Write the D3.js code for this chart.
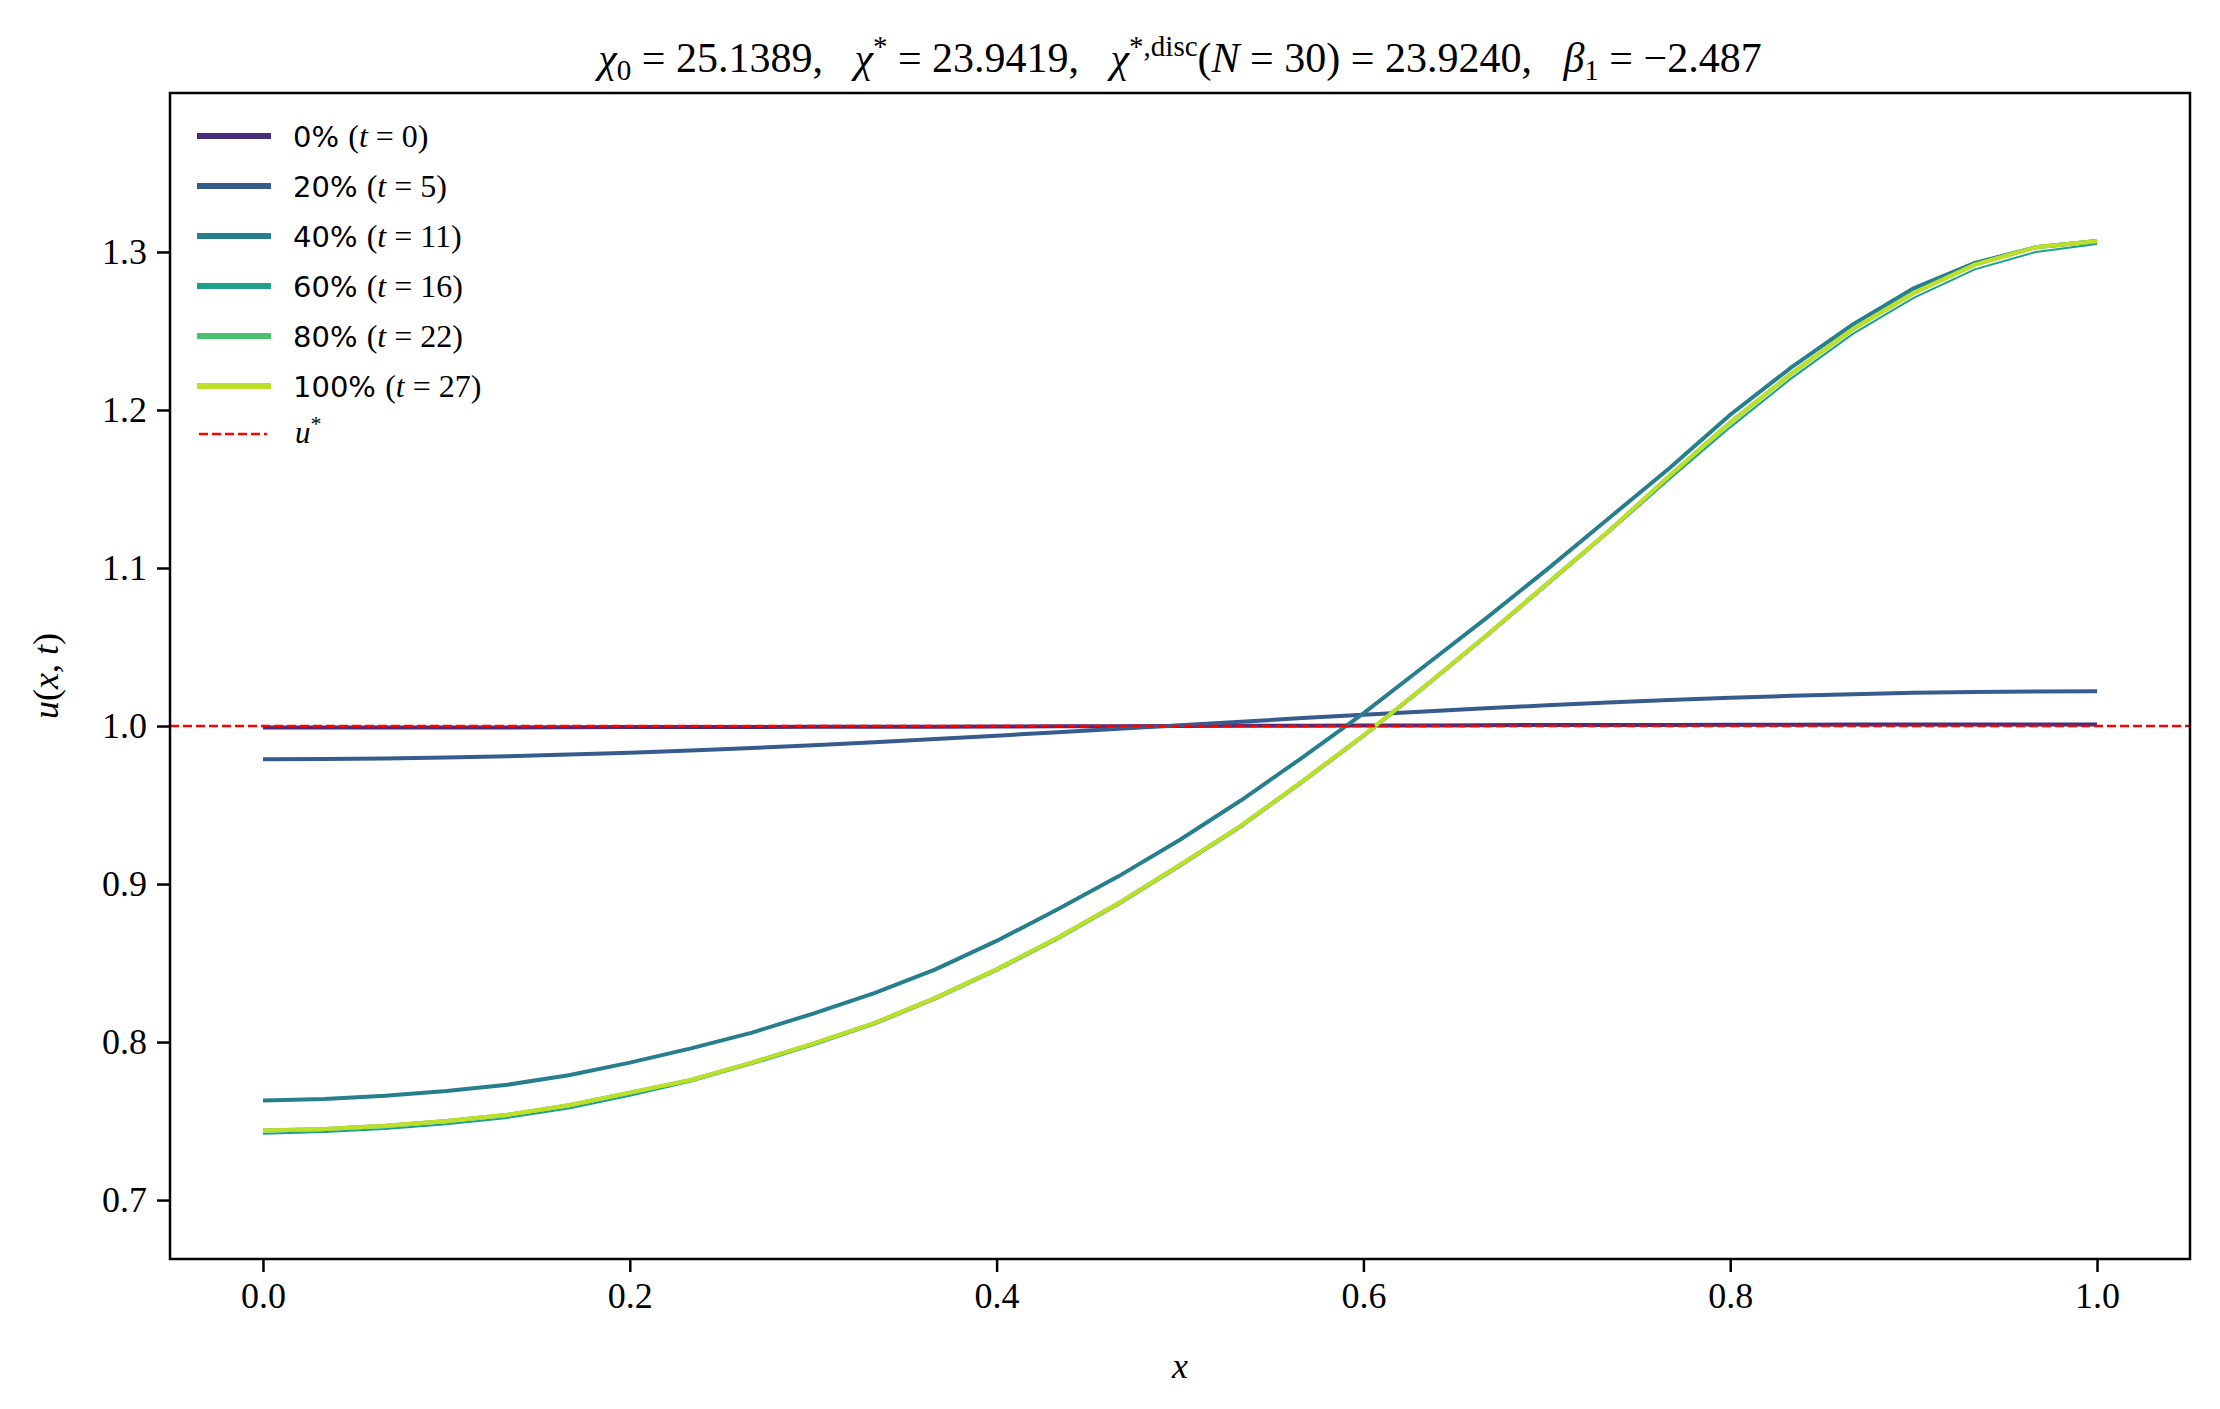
<!DOCTYPE html>
<html><head><meta charset="utf-8">
<script src="https://cdn.jsdelivr.net/npm/d3@7"></script>
<style>body{margin:0;background:#fff} text,tspan{white-space:pre}</style></head>
<body><svg id="c" width="2220" height="1409"></svg>
<script>
const xs = d3.range(31).map(k => k / 30);
const u0 = [0.9990,0.9990,0.9990,0.9991,0.9991,0.9992,0.9993,0.9993,0.9994,0.9995,0.9996,0.9996,0.9997,0.9998,0.9999,1.0000,1.0001,1.0002,1.0003,1.0004,1.0005,1.0006,1.0007,1.0007,1.0008,1.0008,1.0009,1.0009,1.0010,1.0010,1.0010];
const u5 = [0.9790,0.9791,0.9795,0.9800,0.9809,0.9819,0.9831,0.9845,0.9861,0.9879,0.9898,0.9918,0.9939,0.9960,0.9983,1.0005,1.0027,1.0050,1.0071,1.0092,1.0112,1.0131,1.0149,1.0165,1.0179,1.0191,1.0201,1.0210,1.0215,1.0219,1.0220];
const u11 = [0.763,0.764,0.766,0.769,0.773,0.779,0.787,0.796,0.806,0.818,0.831,0.846,0.864,0.884,0.905,0.928,0.953,0.980,1.008,1.038,1.068,1.099,1.131,1.163,1.197,1.227,1.254,1.277,1.293,1.303,1.307];
const u16 = [0.742,0.743,0.745,0.748,0.752,0.758,0.766,0.775,0.786,0.798,0.811,0.827,0.845,0.865,0.887,0.911,0.936,0.964,0.993,1.024,1.056,1.089,1.122,1.156,1.189,1.220,1.248,1.271,1.289,1.300,1.305];
const u22 = [0.744,0.745,0.747,0.750,0.754,0.760,0.768,0.776,0.787,0.799,0.812,0.828,0.846,0.866,0.888,0.912,0.937,0.965,0.994,1.025,1.057,1.090,1.123,1.158,1.192,1.223,1.251,1.274,1.292,1.303,1.307];
const u27 = [0.744,0.745,0.747,0.750,0.754,0.760,0.768,0.776,0.787,0.799,0.812,0.828,0.846,0.866,0.888,0.912,0.937,0.965,0.994,1.025,1.057,1.090,1.123,1.158,1.192,1.223,1.251,1.274,1.292,1.303,1.307];
const seriesPct = ["0%","20%","40%","60%","80%","100%"];
const seriesT = [0,5,11,16,22,27];
const seriesVals = [u0,u5,u11,u16,u22,u27];
const colors = ["#472d7b","#365c8d","#277f8e","#1fa187","#4ac16d","#bddf26"];
const widths = [4,4,4,2,4,4];
const xTicks = [0,0.2,0.4,0.6,0.8,1.0];
const yTicks = [0.7,0.8,0.9,1.0,1.1,1.2,1.3];
const uStar = 1.0;

const svg = d3.select("#c");
const L=170,R=2190,T=93,B=1259;
const x = d3.scaleLinear().domain([-0.0507,1.0507]).range([L,R]);
const y = d3.scaleLinear().domain([0.6627,1.4006]).range([B,T]);
const serif = "'Liberation Serif','DejaVu Serif',serif";

const line = d3.line().x((d,i)=>x(xs[i])).y(d=>y(d));
seriesVals.forEach((v,i)=>{
  svg.append("path").attr("d",line(v)).attr("fill","none")
    .attr("stroke",colors[i]).attr("stroke-width",widths[i]);
});
svg.append("line").attr("x1",L).attr("x2",R).attr("y1",y(uStar)).attr("y2",y(uStar))
  .attr("stroke","#ff0000").attr("stroke-width",2.5).attr("stroke-dasharray","9,4");

const xa = svg.append("g").attr("transform",`translate(0,${B})`)
  .call(d3.axisBottom(x).tickValues(xTicks).tickFormat(d3.format(".1f")).tickSize(13).tickPadding(10));
const ya = svg.append("g").attr("transform",`translate(${L},0)`)
  .call(d3.axisLeft(y).tickValues(yTicks).tickFormat(d3.format(".1f")).tickSize(13).tickPadding(10));
[xa,ya].forEach(a=>{
  a.select(".domain").remove();
  a.selectAll("line").attr("stroke","#000").attr("stroke-width",2.5);
  a.selectAll("text").attr("font-family",serif).attr("font-size",36).attr("fill","#000");
});
svg.append("rect").attr("x",L).attr("y",T).attr("width",R-L).attr("height",B-T)
  .attr("fill","none").attr("stroke","#000").attr("stroke-width",2.5);

// legend
const lg = svg.append("g");
seriesPct.forEach((p,i)=>{
  const yy = 136 + i*50;
  lg.append("line").attr("x1",197).attr("x2",271).attr("y1",yy).attr("y2",yy)
    .attr("stroke",colors[i]).attr("stroke-width",6);
  const t = lg.append("text").attr("x",293).attr("y",yy+11).attr("font-size",29).attr("font-family","'DejaVu Sans',sans-serif");
  t.append("tspan").text(p+" ");
  t.append("tspan").attr("font-family",serif).attr("font-size",32).text("(");
  t.append("tspan").attr("font-family",serif).attr("font-size",32).attr("font-style","italic").text("t");
  t.append("tspan").attr("font-family",serif).attr("font-size",32).text(" = "+seriesT[i]+")");
});
lg.append("line").attr("x1",199).attr("x2",267).attr("y1",434).attr("y2",434)
  .attr("stroke","#ff0000").attr("stroke-width",2.5).attr("stroke-dasharray","9,4");
const us = lg.append("text").attr("x",295).attr("y",443).attr("font-family",serif).attr("font-size",31).attr("font-style","italic");
us.append("tspan").text("u");
us.append("tspan").attr("dy",-12).attr("font-size",22).attr("font-style","normal").text("*");

// title
const tt = svg.append("text").attr("x",(L+R)/2).attr("y",72).attr("text-anchor","middle")
  .attr("font-family",serif).attr("font-size",42);
function it(s){return tt.append("tspan").attr("font-family",serif).attr("font-style","italic").text(s);}
function n(s,o){const e=tt.append("tspan").attr("font-family",serif).text(s); if(o){e.attr("dy",o.dy||0).attr("font-size",o.fs||42);} return e;}
it("χ"); n("0",{dy:8,fs:29}); n(" = 25.1389,   ",{dy:-8});
it("χ"); n("*",{dy:-16,fs:29}); n(" = 23.9419,   ",{dy:16});
it("χ"); n("*,disc",{dy:-16,fs:29}); n("(",{dy:16}); it("N"); n(" = 30) = 23.9240,   ");
it("β"); n("1",{dy:8,fs:29}); n(" = −2.487",{dy:-8});

// axis labels
svg.append("text").attr("x",(L+R)/2).attr("y",1378).attr("text-anchor","middle")
  .attr("font-family",serif).attr("font-size",36).attr("font-style","italic").text("x");
const yl = svg.append("text").attr("transform",`translate(58,${(T+B)/2}) rotate(-90)`).attr("text-anchor","middle")
  .attr("font-family",serif).attr("font-size",36);
yl.append("tspan").attr("font-style","italic").text("u");
yl.append("tspan").text("(");
yl.append("tspan").attr("font-style","italic").text("x");
yl.append("tspan").text(", ");
yl.append("tspan").attr("font-style","italic").text("t");
yl.append("tspan").text(")");
</script></body></html>
